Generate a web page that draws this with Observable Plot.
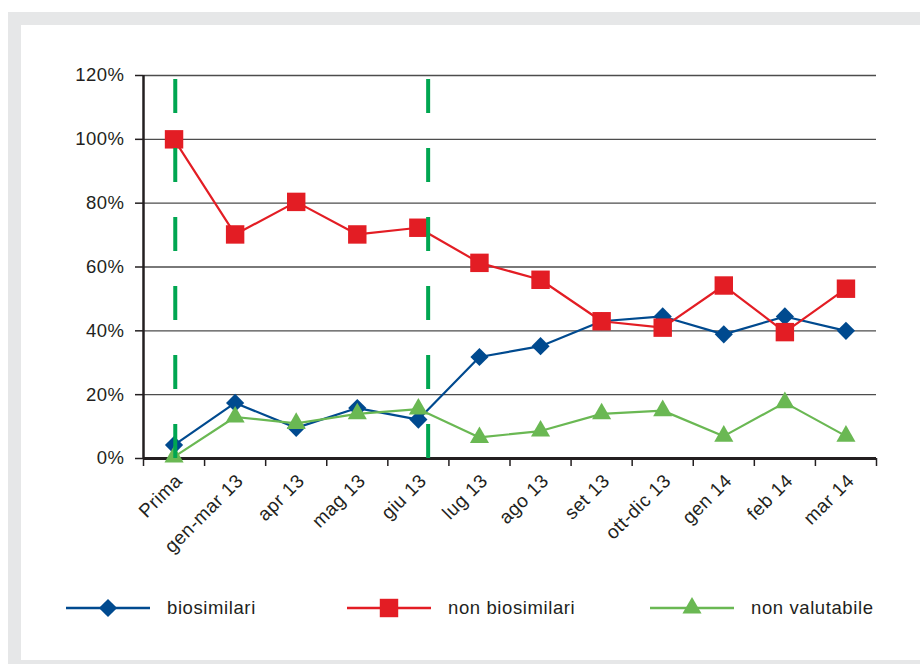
<!DOCTYPE html>
<html><head><meta charset="utf-8">
<script src="https://cdn.jsdelivr.net/npm/d3@7"></script>
<script src="https://cdn.jsdelivr.net/npm/@observablehq/plot@0.6"></script>
<style>
html,body{margin:0;padding:0;}
body{background:#fff;width:920px;height:664px;overflow:hidden;position:relative;font-family:"Liberation Sans",Arial,sans-serif;color:#231f20;}
#frame{position:absolute;left:8px;top:12px;width:930px;height:660px;background:#e6e7e8;}
#inner{position:absolute;left:21px;top:25px;width:910px;height:635px;background:#fff;}
#chart{position:absolute;left:0;top:0;}
#legend{position:absolute;left:0;top:596px;width:920px;height:24px;}
.item{position:absolute;top:0;height:24px;display:flex;align-items:center;font-size:18.5px;letter-spacing:0.6px;}
.item svg{display:block;margin-right:17px;}
</style>
</head><body>
<div id="frame"></div><div id="inner"></div>
<div id="chart"></div>
<div id="legend"></div>
<script>
const categories = ["Prima","gen-mar 13","apr 13","mag 13","giu 13","lug 13","ago 13","set 13","ott-dic 13","gen 14","feb 14","mar 14"];
const biosimilari    = [4.2, 17.4, 9.6, 15.8, 12.2, 31.8, 35.2, 43.0, 44.5, 38.9, 44.5, 40.0];
const nonBiosimilari = [100, 70.2, 80.4, 70.2, 72.3, 61.3, 56.0, 43.0, 41.0, 54.2, 39.6, 53.2];
const nonValutabile  = [0.5, 13.0, 11.0, 14.0, 15.5, 6.6, 8.6, 14.0, 15.0, 7.0, 17.5, 7.0];
const seriesNames   = ["biosimilari","non biosimilari","non valutabile"];
const seriesValues  = [biosimilari, nonBiosimilari, nonValutabile];
const seriesColors  = ["#004a8f","#e31d24","#6ab853"];
const seriesSymbols = ["diamond2","square","triangle"];
const symbolRadius  = [8.2, 10.4, 7.1];
const yTicks = [0,20,40,60,80,100,120];
const separatorPositions = [0.02, 4.16]; // dashed vertical separators, on the category index axis

const idx = d3.range(categories.length);
const boundaries = d3.range(-0.5, categories.length, 1);

const seriesMarks = [];
seriesNames.forEach((name, k) => {
  const rows = seriesValues[k].map((v, i) => ({i, v}));
  seriesMarks.push(Plot.line(rows, {x:"i", y:"v", stroke: seriesColors[k], strokeWidth: 2.2}));
  seriesMarks.push(Plot.dot(rows, {x:"i", y:"v", symbol: seriesSymbols[k], fill: seriesColors[k], stroke:"none", r: symbolRadius[k]}));
});

const chart = Plot.plot({
  width: 920, height: 560,
  marginLeft: 143, marginRight: 44, marginTop: 75, marginBottom: 102,
  style: {fontFamily: "'Liberation Sans', Arial, sans-serif", fontSize: "18.5px", color: "#231f20", background: "transparent", overflow: "visible", letterSpacing: "0.5px"},
  x: {type: "linear", domain: [-0.5, categories.length - 0.5], axis: null, label: null},
  y: {domain: [0, 120], axis: null, label: null},
  marks: [
    Plot.ruleY(yTicks.filter(d => d > 0), {stroke: "#4d4d4d", strokeWidth: 1.3}),
    Plot.axisY({ticks: yTicks, tickFormat: d => d + "%", tickSize: 8, tickPadding: 11, stroke: "#231f20", strokeWidth: 1.5, label: null}),
    Plot.axisX({ticks: boundaries, tickFormat: () => "", tickSize: 8, stroke: "#231f20", strokeWidth: 1.5, label: null}),
    Plot.axisX({ticks: idx, tickFormat: i => categories[i], tickSize: 0, tickPadding: 19, tickRotate: -45, dx: 5, label: null, fontSize: 19}),
    Plot.ruleX([-0.5], {y1: 0, y2: 120, stroke: "#231f20", strokeWidth: 2.5}),
    Plot.ruleY([0], {stroke: "#231f20", strokeWidth: 3}),
    ...seriesMarks,
    Plot.ruleX(separatorPositions, {y1: 0, y2: 120, stroke: "#00a651", strokeWidth: 4, strokeDasharray: "34,35"})
  ]
});
document.getElementById("chart").appendChild(chart);

// Legend
const legendLefts = [66, 347, 650];
const legend = d3.select("#legend");
const symbolTypes = {diamond2: d3.symbolDiamond2, square: d3.symbolSquare, triangle: d3.symbolTriangle};
seriesNames.forEach((name, k) => {
  const item = legend.append("div").attr("class", "item").style("left", legendLefts[k] + "px");
  const svg = item.append("svg").attr("width", 84).attr("height", 24);
  svg.append("line").attr("x1", 0).attr("x2", 84).attr("y1", 12).attr("y2", 12)
     .attr("stroke", seriesColors[k]).attr("stroke-width", 2.5);
  const r = symbolRadius[k];
  svg.append("path").attr("transform", "translate(42,12)")
     .attr("d", d3.symbol(symbolTypes[seriesSymbols[k]], Math.PI * r * r)())
     .attr("fill", seriesColors[k]);
  item.append("span").text(name);
});
</script>
</body></html>
